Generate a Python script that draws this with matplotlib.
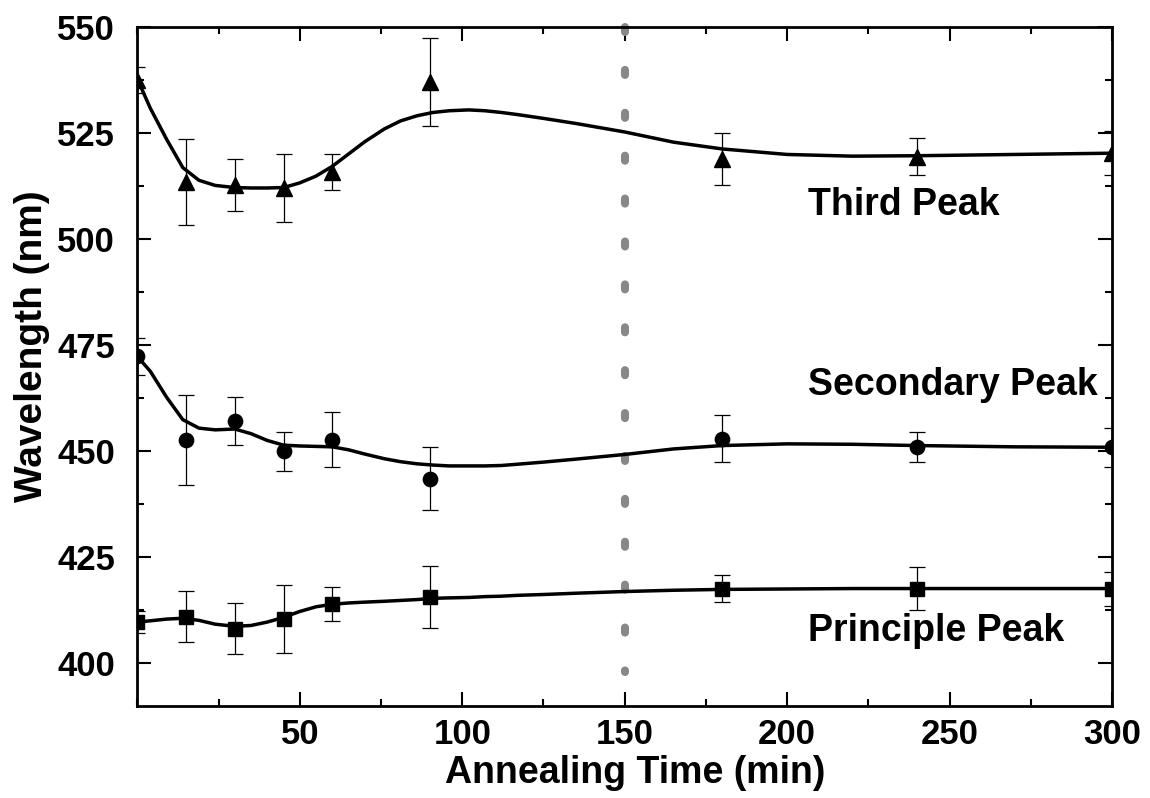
import numpy as np
import matplotlib
matplotlib.use("Agg")
import matplotlib.pyplot as plt
from matplotlib.ticker import MultipleLocator

plt.rcParams["font.family"] = ["Liberation Sans", "DejaVu Sans"]
plt.rcParams["font.weight"] = "bold"

# --------------------------------------------------------------
# Measured points (annealing time in min, wavelength in nm)
# --------------------------------------------------------------
time_min = [0, 15, 30, 45, 60, 90, 180, 240, 300]

third_peak = [537.5, 513.4, 512.7, 512.0, 515.8, 537.0, 518.8, 519.4, 520.2]
third_err = [3.0, 10.2, 6.1, 8.0, 4.2, 10.4, 6.2, 4.3, 5.2]

secondary_peak = [472.3, 452.7, 457.1, 449.9, 452.7, 443.5, 452.9, 451.0, 450.9]
secondary_err = [4.4, 10.6, 5.6, 4.5, 6.5, 7.4, 5.5, 3.5, 4.6]

principle_peak = [409.7, 411.0, 408.1, 410.5, 414.0, 415.6, 417.6, 417.6, 417.6]
principle_err = [2.5, 6.1, 6.0, 8.0, 4.0, 7.2, 3.2, 5.0, 4.0]

# --------------------------------------------------------------
# Smoothed fit curves
# --------------------------------------------------------------
curve_t = [0, 4, 9, 14, 19, 24, 30, 35, 40, 45, 50, 55, 60, 65, 70, 76, 81,
           86, 91, 96, 102, 107, 112, 117, 125, 135, 150, 165, 180, 200,
           220, 240, 270, 300]

third_curve = [537.7, 530.8, 523.5, 516.8, 513.8, 512.6, 512.1, 512.0, 512.0,
               512.1, 513.2, 514.8, 517.1, 520.0, 522.9, 525.9, 527.8, 529.0,
               529.8, 530.2, 530.4, 530.2, 529.8, 529.3, 528.4, 527.2, 525.2,
               522.8, 521.2, 519.9, 519.5, 519.6, 519.9, 520.2]

secondary_curve = [472.3, 468.8, 462.7, 457.4, 455.4, 455.0, 455.2, 454.1,
                   452.5, 451.4, 451.2, 451.1, 451.0, 450.3, 449.3, 448.2,
                   447.5, 447.0, 446.7, 446.5, 446.5, 446.5, 446.6, 446.9,
                   447.4, 448.1, 449.2, 450.5, 451.3, 451.7, 451.6, 451.3,
                   451.0, 450.9]

principle_curve = [409.7, 410.0, 410.4, 410.6, 410.1, 409.2, 408.7, 408.9,
                   409.7, 410.8, 412.2, 413.3, 413.9, 414.2, 414.4, 414.6,
                   414.8, 415.0, 415.3, 415.4, 415.5, 415.7, 415.8, 416.0,
                   416.2, 416.5, 416.9, 417.2, 417.4, 417.5, 417.6, 417.6,
                   417.6, 417.6]

peak_names = ["Third Peak", "Secondary Peak", "Principle Peak"]
label_pos = [(206.5, 508.0), (206.5, 465.5), (206.5, 407.7)]

x_ticks = [50, 100, 150, 200, 250, 300]
y_ticks = [400, 425, 450, 475, 500, 525, 550]

# --------------------------------------------------------------
# Plot
# --------------------------------------------------------------
fig = plt.figure(figsize=(11.5, 7.98), dpi=100)
ax = fig.add_axes([0.1194, 0.1157, 0.8476, 0.8508])

series = [
    (third_peak, third_err, third_curve, "^", 12),
    (secondary_peak, secondary_err, secondary_curve, "o", 10.3),
    (principle_peak, principle_err, principle_curve, "s", 9.6),
]

for vals, err, curve, mk, ms in series:
    ax.errorbar(time_min, vals, yerr=err, fmt="none", ecolor="black",
                elinewidth=0.9, capsize=6, capthick=0.9, zorder=3)
    ax.plot(time_min, vals, linestyle="none", marker=mk, markersize=ms,
            color="black", zorder=4)
    ax.plot(curve_t, curve, color="black", linewidth=2.5, zorder=3)

# vertical dotted marker at 150 min
ax.plot([150, 150], [550, 398], color="#888888", linewidth=5.8,
        dashes=(0.625, 4.7), dash_capstyle="round", zorder=2, clip_on=False)

for name, (tx, ty) in zip(peak_names, label_pos):
    ax.text(tx, ty, name, fontsize=27, fontweight="bold", ha="left",
            va="center")

ax.set_xlim(0, 300)
ax.set_ylim(390, 550)
ax.set_xticks(x_ticks)
ax.set_yticks(y_ticks)
ax.xaxis.set_minor_locator(MultipleLocator(25))
ax.yaxis.set_minor_locator(MultipleLocator(12.5))

ax.tick_params(which="both", direction="in", top=True, right=True,
               width=1.5, labelsize=25)
ax.tick_params(which="major", length=10)
ax.tick_params(which="minor", length=5)
ax.tick_params(axis="x", pad=9)
ax.tick_params(axis="y", pad=16)
for lab in ax.get_xticklabels() + ax.get_yticklabels():
    lab.set_fontweight("bold")

for sp in ax.spines.values():
    sp.set_linewidth(2)

ax.set_xlabel("Annealing Time (min)", fontsize=27, fontweight="bold")
ax.set_ylabel("Wavelength (nm)", fontsize=28, fontweight="bold")
ax.xaxis.set_label_coords(0.511, -0.072)
ax.yaxis.set_label_coords(-0.09, 0.53)

fig.savefig("out.png", dpi=100)
